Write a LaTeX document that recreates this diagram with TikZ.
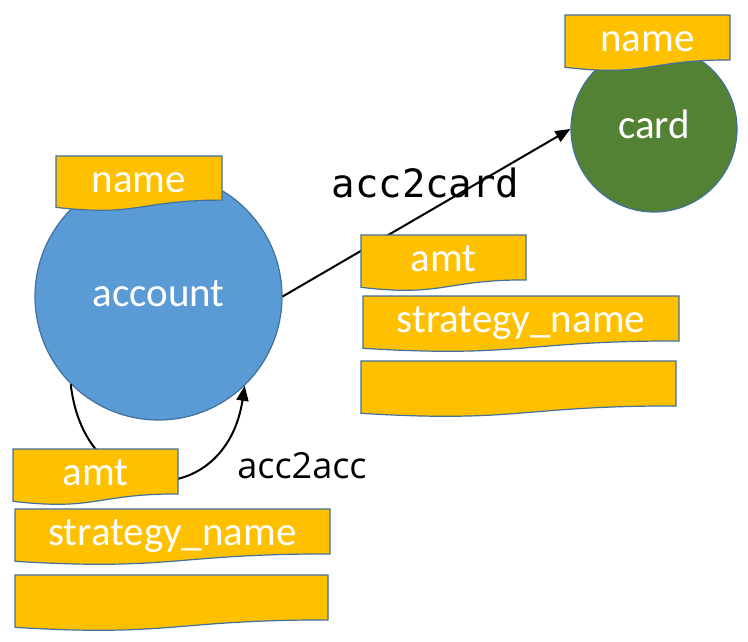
\documentclass[tikz,border=0pt]{standalone}
\usepackage{fontspec}
\setmainfont{Carlito}
\newfontfamily\monofont{DejaVu Sans Mono}
\newfontfamily\labfont{Open Sans}
\usetikzlibrary{arrows.meta,calc}
\definecolor{gold}{HTML}{FFC000}
\definecolor{edgeblue}{HTML}{41719C}
\definecolor{accblue}{HTML}{5B9BD5}
\definecolor{cardgreen}{HTML}{548235}
\tikzset{
  entity/.style={circle, draw=edgeblue, line width=1.2pt, inner sep=0pt,
    text=white, font=\fontsize{41}{49}\selectfont, text height=20pt, text depth=0pt},
  tagshape/.style={fill=gold, draw=edgeblue, line width=1.2pt},
  tagtext/.style={text=white, font=\fontsize{41}{49}\selectfont, anchor=base, inner sep=0pt},
  link/.style={line width=2pt, -{Triangle[length=15pt,width=12pt]}},
  edgelabel/.style={anchor=base, inner sep=0pt, text=black},
}
\newcommand\doctag[6]{% name, x, y, w, h, text
  \draw[tagshape] (#2,#3) -- ({#2+#4},#3) -- ({#2+#4},{#3+0.802*#5})
    .. controls ({#2+0.5*#4},{#3+0.802*#5}) and ({#2+0.5*#4},{#3+1.1075*#5}) ..
    (#2,{#3+0.934*#5}) -- cycle;
  \node[tagtext] (#1) at ({#2+0.5*#4},{#3+36.5}) {#6};
}
\begin{document}
\begin{tikzpicture}[x=1pt,y=-1pt]
\path[fill=white] (0,0) rectangle (748,642);
\useasboundingbox (0,0) rectangle (748,642);
% entities
\node[entity, fill=accblue, minimum size=247pt] (account) at (158.5,296.5) {account};
\node[entity, fill=cardgreen, minimum size=166pt] (card) at (654,129) {card};
% connectors
\draw[link] (account.east) -- (card.west);
\draw[link] (account.225) .. controls +(14,126) and +(-19,125) .. (account.-46);
% labels
\node[edgelabel, font=\monofont\fontsize{39}{47}\selectfont] (lcard) at (425.5,197) {acc2card};
\node[edgelabel, font=\labfont\fontsize{36}{43}\selectfont] (lacc) at (302,478) {acc2acc};
% attribute tags
\doctag{accname}{56}{156}{166}{55}{name}
\doctag{cardname}{565}{15}{165}{56}{name}
\doctag{ramt}{361}{235}{165}{56}{amt}
\doctag{rstrat}{363}{296}{316}{56}{strategy\_name}
\doctag{rempty}{361}{361}{315}{56}{}
\doctag{lamt}{13}{449}{165}{56}{amt}
\doctag{lstrat}{15}{509}{315}{56}{strategy\_name}
\doctag{lempty}{15}{575}{313}{56}{}
\end{tikzpicture}
\end{document}
